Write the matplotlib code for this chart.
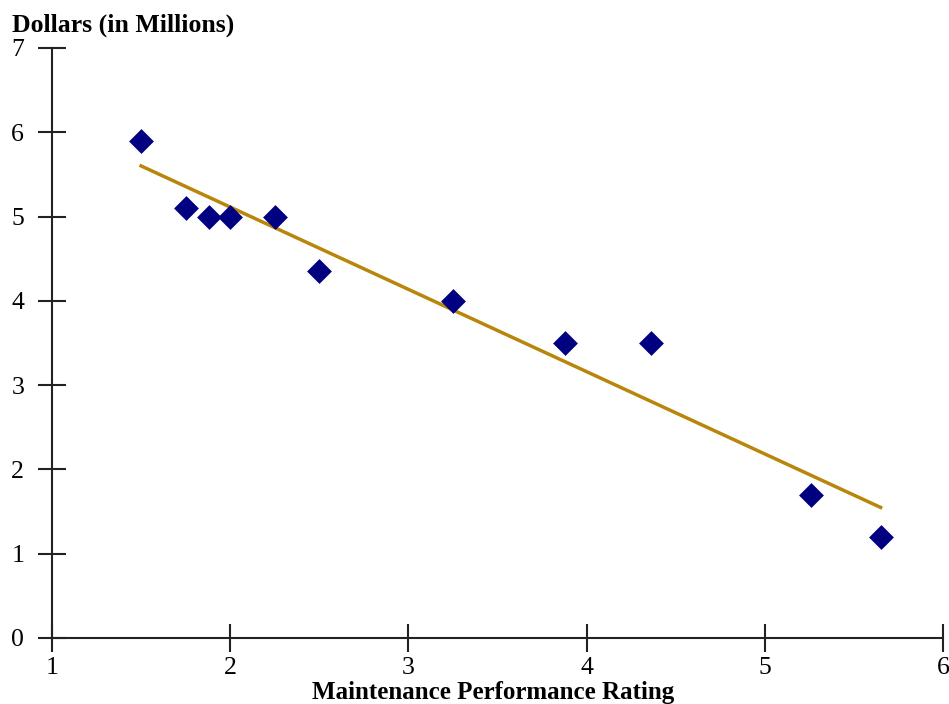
import matplotlib
matplotlib.use("Agg")
import matplotlib.pyplot as plt
import numpy as np

rating = [1.5, 1.75, 1.88, 2.0, 2.25, 2.5, 3.25, 3.88, 4.36, 5.26, 5.65]
dollars = [5.9, 5.1, 5.0, 5.0, 5.0, 4.35, 4.0, 3.5, 3.5, 1.7, 1.2]
x_ticks = [1, 2, 3, 4, 5, 6]
y_ticks = [0, 1, 2, 3, 4, 5, 6, 7]

plt.rcParams['font.family'] = ['Liberation Serif', 'DejaVu Serif']

fig = plt.figure(figsize=(9.49, 7.04), dpi=100)
ax = fig.add_axes([52/949, 1-638/704, (943-52)/949, (638-48)/704])

ax.scatter(rating, dollars, marker='D', s=160, color='#000080', zorder=3, linewidths=0)
coef = np.polyfit(rating, dollars, 1)
xl = np.array([min(rating), max(rating)])
ax.plot(xl, np.polyval(coef, xl), color='#B8860B', lw=2.5, zorder=2)

ax.set_xlim(1, 6)
ax.set_ylim(0, 7)
ax.set_xticks(x_ticks)
ax.set_yticks(y_ticks)
for s in ['top', 'right']:
    ax.spines[s].set_visible(False)
for s in ['left', 'bottom']:
    ax.spines[s].set_linewidth(1.5)
    ax.spines[s].set_color('#222222')
ax.tick_params(direction='inout', length=20, width=1.5, color='#222222', labelsize=18.5, pad=4)
ax.tick_params(axis='y', pad=10)

fig.text(12/949, 1-25/704, 'Dollars (in Millions)', fontsize=18.5, fontweight='bold', ha='left', va='center')
fig.text(493/949, 1-693/704, 'Maintenance Performance Rating', fontsize=18, fontweight='bold', ha='center', va='center')

fig.savefig('out.png', dpi=100)
